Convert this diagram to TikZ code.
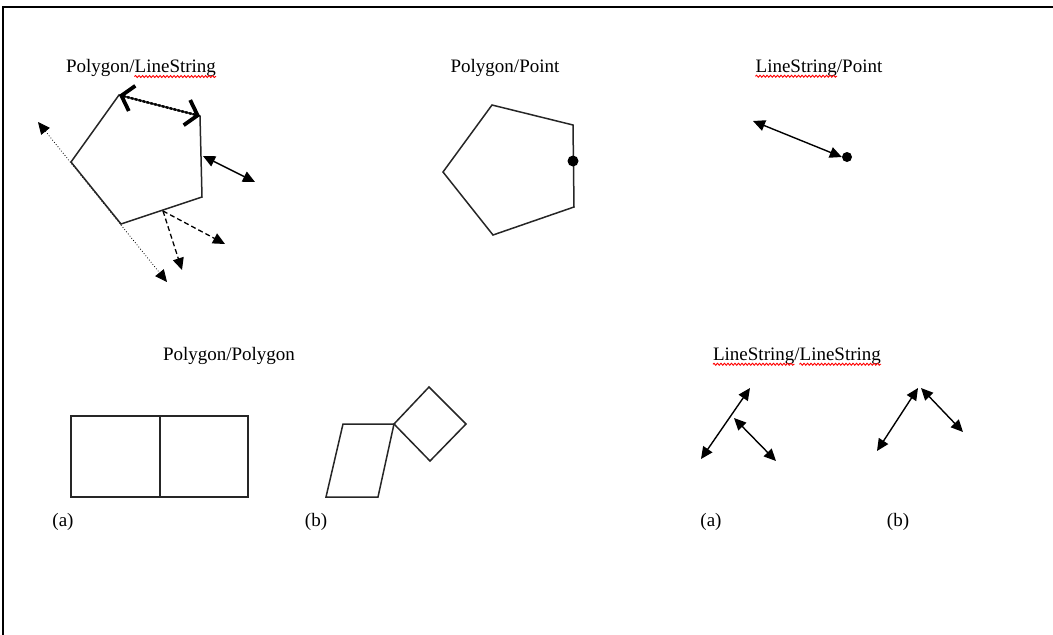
\documentclass[tikz,border=0pt]{standalone}
\usepackage{fontspec}
\setmainfont{Liberation Serif}
\usetikzlibrary{arrows.meta,decorations.pathmorphing}
\begin{document}
\begin{tikzpicture}[x=1pt,y=-1pt,
  geom/.style={draw=black!85, line width=1.5pt, line join=miter},
  dbl/.style={line width=1.4pt, {Triangle[length=12pt,width=11pt]}-{Triangle[length=12pt,width=11pt]}},
  lbl/.style={font=\fontsize{19}{22}\selectfont, inner sep=0pt},
  ghost/.style={font=\fontsize{19}{22}\selectfont, inner sep=0pt},
  wav/.style={red, line width=0.9pt, decorate, decoration={snake,amplitude=1pt,segment length=3.5pt}}]
\useasboundingbox (0,0) rectangle (1053,635);
% frame
\coordinate (fa) at (3,635);
\coordinate (fb) at (3,7);
\coordinate (fc) at (1053,7);
\draw[line width=1.5pt] (fa) -- (fb) -- (fc);

% ---------- Polygon/LineString
\coordinate (a1) at (119,95);
\coordinate (a2) at (200,116);
\coordinate (a3) at (202,197);
\coordinate (a4) at (121,224);
\coordinate (a5) at (71,162);
\coordinate (d1) at (38,122);
\coordinate (d2) at (167,282);
\draw[line width=0.8pt, dotted, {Triangle[length=12pt,width=11pt]}-{Triangle[length=12pt,width=11pt]}] (d1) -- (d2);
\draw[geom] (a1) -- (a2) -- (a3) -- (a4) -- (a5) -- cycle;
\draw[line width=2.4pt, dash pattern=on 2.5pt off 1.5pt,
  {Straight Barb[length=11pt,width=26pt,line width=3.8pt]}-{Straight Barb[length=11pt,width=26pt,line width=3.8pt]}] (a1) -- (a2);
\coordinate (r1) at (203,156);
\coordinate (r2) at (255,182);
\draw[dbl] (r1) -- (r2);
\coordinate (b0) at (163,211);
\coordinate (b1) at (225,244);
\coordinate (b2) at (182,270);
\draw[line width=1.3pt, dash pattern=on 5pt off 3pt, -{Triangle[length=12pt,width=11pt]}] (b0) -- (b1);
\draw[line width=1.3pt, dash pattern=on 5pt off 3pt, -{Triangle[length=12pt,width=11pt]}] (b0) -- (b2);
\node[lbl] (t1) at (141,68) {Polygon/LineString};
\node[ghost, anchor=base east] (t1w) at (t1.base east) {\phantom{LineString}};
\draw[wav] ([yshift=-4pt]t1w.base west) -- ([yshift=-4pt]t1w.base east);

% ---------- Polygon/Point
\coordinate (q1) at (492,105);
\coordinate (q2) at (573,125);
\coordinate (q3) at (574,207);
\coordinate (q4) at (493,235);
\coordinate (q5) at (443,172);
\draw[geom] (q1) -- (q2) -- (q3) -- (q4) -- (q5) -- cycle;
\node[circle, fill, minimum size=11pt, inner sep=0pt] (pt1) at (573,161) {};
\node[lbl] (t2) at (505,68) {Polygon/Point};

% ---------- LineString/Point
\coordinate (l1) at (753,121);
\node[circle, fill, minimum size=10pt, inner sep=0pt] (pt2) at (847,157) {};
\draw[dbl] (l1) -- (pt2.west);
\node[lbl] (t3) at (819,68) {LineString/Point};
\node[ghost, anchor=base west] (t3w) at (t3.base west) {\phantom{LineString}};
\draw[wav] ([yshift=-4pt]t3w.base west) -- ([yshift=-4pt]t3w.base east);

% ---------- Polygon/Polygon
\node[lbl] (t4) at (229,356) {Polygon/Polygon};
\coordinate (s1) at (71,416);
\coordinate (s2) at (248,497);
\coordinate (s3) at (160,416);
\coordinate (s4) at (160,497);
\draw[geom] (s1) rectangle (s2);
\draw[geom] (s3) -- (s4);
\coordinate (m1) at (343,424);
\coordinate (m2) at (394,424);
\coordinate (m3) at (378,497);
\coordinate (m4) at (326,497);
\draw[geom] (m1) -- (m2) -- (m3) -- (m4) -- cycle;
\coordinate (k1) at (429,387);
\coordinate (k2) at (466,424);
\coordinate (k3) at (430,461);
\draw[geom] (m2) -- (k1) -- (k2) -- (k3) -- cycle;
\node[lbl] (pa) at (63,522) {(a)};
\node[lbl] (pb) at (316,522) {(b)};

% ---------- LineString/LineString
\node[lbl] (t5) at (797,356) {LineString/LineString};
\node[ghost, anchor=base west] (t5w) at (t5.base west) {\phantom{LineString}};
\node[ghost, anchor=base east] (t5e) at (t5.base east) {\phantom{LineString}};
\draw[wav] ([yshift=-4pt]t5w.base west) -- ([yshift=-4pt]t5w.base east);
\draw[wav] ([yshift=-4pt]t5e.base west) -- ([yshift=-4pt]t5e.base east);
\coordinate (u1) at (701,459);
\coordinate (u2) at (750,388);
\coordinate (u3) at (734,418);
\coordinate (u4) at (776,461);
\draw[dbl] (u1) -- (u2);
\draw[dbl] (u3) -- (u4);
\coordinate (v1) at (877,451);
\coordinate (v2) at (918,388);
\coordinate (v3) at (921,388);
\coordinate (v4) at (963,432);
\draw[dbl] (v1) -- (v2);
\draw[dbl] (v3) -- (v4);
\node[lbl] (pc) at (711,522) {(a)};
\node[lbl] (pd) at (898,522) {(b)};
\end{tikzpicture}
\end{document}
